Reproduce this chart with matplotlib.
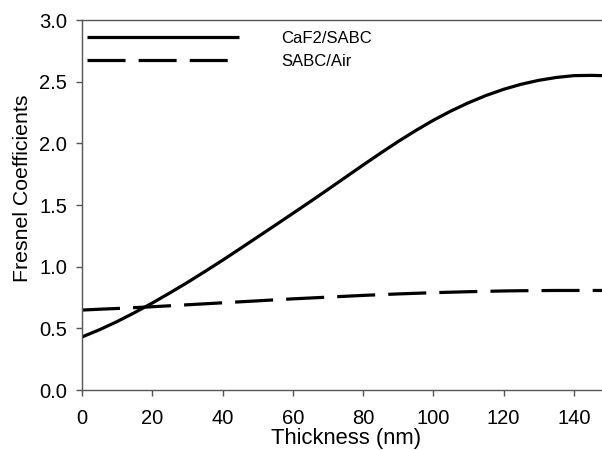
import matplotlib
matplotlib.use("Agg")
import matplotlib.pyplot as plt

plt.rcParams['font.family'] = ['Liberation Sans', 'DejaVu Sans']

thickness = [0, 5, 10, 15, 20, 25, 30, 35, 40, 45, 50, 55, 60, 65, 70, 75, 80,
             85, 90, 95, 100, 105, 110, 115, 120, 125, 130, 135, 140, 145, 148]
caf2_sabc = [0.430, 0.489, 0.555, 0.628, 0.705, 0.787, 0.872, 0.961, 1.052,
             1.146, 1.241, 1.336, 1.432, 1.528, 1.626, 1.725, 1.824, 1.921,
             2.015, 2.104, 2.187, 2.262, 2.329, 2.388, 2.438, 2.479, 2.511,
             2.534, 2.549, 2.551, 2.549]
sabc_air = [0.648, 0.655, 0.661, 0.668, 0.675, 0.683, 0.691, 0.699, 0.707,
            0.715, 0.723, 0.731, 0.739, 0.746, 0.753, 0.760, 0.767, 0.773,
            0.779, 0.784, 0.789, 0.793, 0.797, 0.800, 0.803, 0.805, 0.806,
            0.807, 0.807, 0.807, 0.807]
labels = ["CaF2/SABC", "SABC/Air"]
xticks = [0, 20, 40, 60, 80, 100, 120, 140]
yticks = [0.0, 0.5, 1.0, 1.5, 2.0, 2.5, 3.0]

fig = plt.figure(figsize=(6.02, 4.5), dpi=100)
ax = fig.add_axes([82/602, 60/450, 520/602, 370/450])

lw = 2.3
ax.plot(thickness, caf2_sabc, color='black', lw=lw, label=labels[0],
        solid_capstyle='butt', solid_joinstyle='round')
ax.plot(thickness, sabc_air, color='black', lw=lw, label=labels[1],
        linestyle=(0, (11.9, 4.1)), dash_capstyle='butt')

ax.set_xlim(0, 148)
ax.set_ylim(0, 3.0)
ax.set_xticks(xticks)
ax.set_yticks(yticks)
ax.set_yticklabels([f"{v:.1f}" for v in yticks])

spine_color = '#555555'
for s in ['left', 'bottom', 'top']:
    ax.spines[s].set_color(spine_color)
    ax.spines[s].set_linewidth(1.0)
ax.spines['right'].set_visible(False)
ax.tick_params(direction='out', length=4, width=1.0, color=spine_color,
               labelsize=14.5)
ax.tick_params(axis='y', pad=6.8)
ax.tick_params(axis='x', pad=10)

ax.set_xlabel("Thickness (nm)", fontsize=15.8)
ax.set_ylabel("Fresnel Coefficients", fontsize=15.3)
ax.xaxis.set_label_coords(0.508, -0.103)
ax.yaxis.set_label_coords(-0.096, 0.546)

leg = ax.legend(loc='upper left', bbox_to_anchor=(0.0096, 0.9697), frameon=False,
                fontsize=12, handlelength=9.12, handletextpad=2.55,
                labelspacing=0.48, borderpad=0, borderaxespad=0)

fig.savefig("out.png", dpi=100)
